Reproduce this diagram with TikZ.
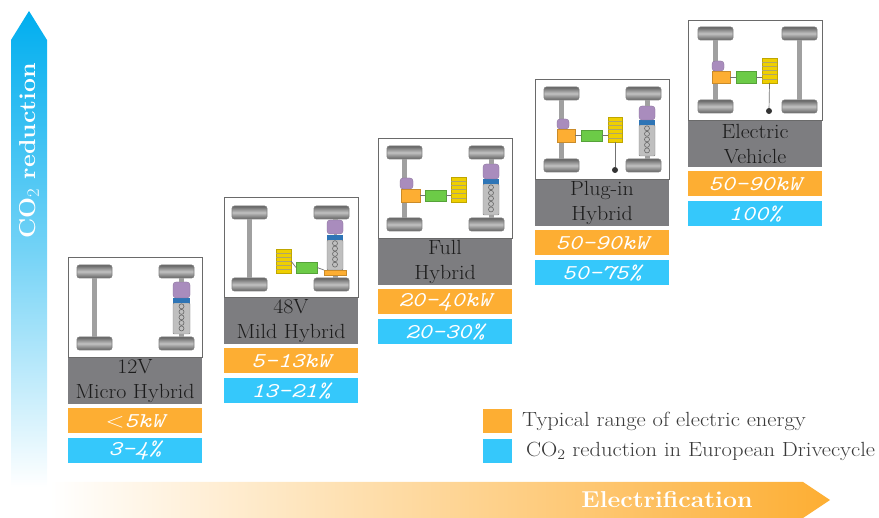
\documentclass[tikz,border=0pt]{standalone}
\usetikzlibrary{calc}
\definecolor{cOrange}{HTML}{FDAE33}
\definecolor{cBlue}{HTML}{35C8FB}
\definecolor{cArrow}{HTML}{00AEEF}
\definecolor{cGrey}{HTML}{7D7D80}
\definecolor{cFrame}{HTML}{6A6A6A}
\definecolor{cPurple}{HTML}{A98CBD}
\definecolor{cBar}{HTML}{2E75B6}
\definecolor{cGreen}{HTML}{6CCB47}
\definecolor{cYellow}{HTML}{EFCF00}
\definecolor{cAxle}{HTML}{A0A0A0}
\definecolor{cText}{HTML}{1C1C1C}
\definecolor{cLegend}{HTML}{3A3A3A}
\newcommand{\widetext}[2]{\scalebox{#1}[1]{#2}}
\tikzset{
  x=1pt,y=-1pt,
  box/.style={inner sep=0pt,outer sep=0pt},
  wheelbox/.style={box,draw=black!50,line width=.7pt,rounded corners=2.5pt,top color=black!62,bottom color=black!62,middle color=black!24},
  axlebar/.style={draw=cAxle,line width=5pt},
  wire/.style={draw=black!55,line width=.7pt},
  purplebox/.style={box,fill=cPurple,draw=cPurple!80!black,line width=.3pt,rounded corners=3pt},
  barbox/.style={box,fill=cBar},
  bodybox/.style={box,fill=black!25,draw=black!50,line width=.4pt,rounded corners=1pt},
  orangebox/.style={box,fill=cOrange,draw=cOrange!80!black,line width=.4pt},
  greenbox/.style={box,fill=cGreen,draw=cGreen!80!black,line width=.4pt},
  yellowbox/.style={box,fill=cYellow,draw=cYellow!80!black,line width=.4pt},
  framebox/.style={box,fill=white,draw=cFrame,line width=1pt},
  greybox/.style={box,fill=cGrey,text=cText,align=center,font=\fontsize{20.5}{25}\selectfont},
  valbox/.style={box,text=white,font=\fontsize{21}{21}\selectfont\ttfamily\itshape},
  legendtext/.style={box,text=cLegend,anchor=west,font=\fontsize{20.5}{20.5}\selectfont},
  arrowtext/.style={box,text=white,font=\fontsize{23}{23}\selectfont\bfseries},
}
% part: style, name, x0, y0, x1, y1
\newcommand{\partbox}[6]{\node[#1,minimum width={(#5-#3)*1pt},minimum height={(#6-#4)*1pt}] (#2) at ({(#3+#5)/2},{(#4+#6)/2}) {};}
% four wheels: x-left-wheel, x-right-wheel, y-top, y-bottom
\newcommand{\wheels}[4]{%
  \partbox{wheelbox}{wtl}{#1}{#3}{#1+35}{#3+13}
  \partbox{wheelbox}{wtr}{#2}{#3}{#2+35}{#3+13}
  \partbox{wheelbox}{wbl}{#1}{#4}{#1+35}{#4+13}
  \partbox{wheelbox}{wbr}{#2}{#4}{#2+35}{#4+13}}
% rear drivetrain: x0,x1,purple y0,y1, bar y0,y1, body y1
\newcommand{\rearunit}[7]{%
  \partbox{bodybox}{body}{#1}{#6}{#2}{#7}
  \draw[axlebar] (body.south) -- (body.south |- wbr.north);
  \foreach \k in {1,...,5}{\node[box,circle,draw=black!60,line width=.6pt,minimum size=5pt] (coil\k) at ({(#1+#2)/2},{#6+(#7-#6)*(\k-.4)/5.6}) {};}
  \partbox{barbox}{bar}{#1-1}{#5}{#2+1}{#6}
  \partbox{purplebox}{pur}{#1}{#3}{#2}{#4}
  \draw[axlebar] (pur.north) -- (pur.north |- wtr.south);
  \draw[axlebar,line width=3pt] (pur.south) -- (bar.north);}
% battery with stripes
\newcommand{\battery}[4]{%
  \partbox{yellowbox}{bat}{#1}{#2}{#3}{#4}
  \foreach \k in {1,...,5}{\draw[draw=white!60!cYellow!70!black,line width=.5pt] ($(bat.north west)!\k/6!(bat.south west)$) -- ($(bat.north east)!\k/6!(bat.south east)$);}}
% panel frame and labels
\newcommand{\panel}[7]{%
 \begin{scope}[shift={(#1,#2)},name prefix=#3-]
  \partbox{framebox}{frame}{0}{0}{134}{100}
  \node[greybox,minimum width=134pt,minimum height=46pt] (kind) at (67,123) {\widetext{1.07}{#4}\\\widetext{1.07}{#5}};
  \node[valbox,fill=cOrange,minimum width=134pt,minimum height=25pt] (power) at (67,163) {\widetext{1.2}{#6}};
  \node[valbox,fill=cBlue,minimum width=134pt,minimum height=25pt] (gain) at (67,193) {\widetext{1.2}{#7}};
 \end{scope}}
\begin{document}
\begin{tikzpicture}
\useasboundingbox (0,0) rectangle (879,518);
% big arrows
\shade[top color=cArrow,bottom color=white,middle color=cArrow!55] (11,40) -- (29,11) -- (47,40) -- (47,487) -- (11,487) -- cycle;
\shade[left color=white,right color=cOrange] (50,482) -- (803,482) -- (830,500) -- (803,518) -- (50,518) -- cycle;
\node[arrowtext,rotate=90] (ylab) at (29,151) {\widetext{1.08}{CO$_2$ reduction}};
\node[arrowtext] (xlab) at (667,500) {\widetext{1.08}{Electrification}};
% legend
\partbox{box,fill=cOrange}{legO}{483}{409}{512}{433}
\partbox{box,fill=cBlue}{legB}{483}{439}{512}{463}
\node[legendtext] (legOt) at (522,421) {\widetext{1.1}{Typical range of electric energy}};
\node[legendtext] (legBt) at (526,451) {\widetext{1.1}{CO$_2$ reduction in European Drivecycle}};
% panels
\panel{68}{258}{a}{12V}{Micro Hybrid}{{\rmfamily$<$}5kW}{3-4\%}
\panel{224}{198}{b}{48V}{Mild Hybrid}{5-13kW}{13-21\%}
\panel{378}{139}{c}{Full}{Hybrid}{20-40kW}{20-30\%}
\panel{535}{80}{d}{Plug-in}{Hybrid}{50-90kW}{50-75\%}
\panel{688}{21}{e}{Electric}{Vehicle}{50-90kW}{100\%}
% panel a
\begin{scope}[shift={(68,258)},name prefix=a-]
  \wheels{9}{91}{7}{79}
  \draw[axlebar] (wtl.south) -- (wbl.north);
  \rearunit{105}{122}{24}{40}{40}{45}{76}
\end{scope}
% panel b
\begin{scope}[shift={(224,198)},name prefix=b-]
  \wheels{8}{90}{8}{80}
  \draw[axlebar] (wtl.south) -- (wbl.north);
  \rearunit{103}{119}{22}{36}{37}{42}{72}
  \partbox{orangebox}{mot}{100}{72}{122}{77}
  \partbox{greenbox}{inv}{72}{64}{93}{75}
  \battery{52}{51}{67}{75}
  \draw[wire] (bat.east) -- (inv.west);
  \draw[wire] (inv.east) -- (mot.north west);
\end{scope}
% panel c
\begin{scope}[shift={(378,139)},name prefix=c-]
  \wheels{9}{91}{7}{79}
  \draw[axlebar] (wtl.south) -- (wbl.north);
  \rearunit{105}{121}{25}{40}{40}{45}{76}
  \partbox{purplebox}{pf}{22}{39}{35}{50}
  \partbox{orangebox}{mot}{23}{50}{42}{63}
  \partbox{greenbox}{inv}{47}{51}{68}{62}
  \battery{73}{38}{88}{63}
  \draw[wire] (bat.west |- inv.east) -- (inv.east);
  \draw[wire] (inv.west) -- (mot.east |- inv.west);
\end{scope}
% panel d
\begin{scope}[shift={(535,80)},name prefix=d-]
  \wheels{9}{91}{7}{79}
  \draw[axlebar] (wtl.south) -- (wbl.north);
  \rearunit{104}{120}{26}{40}{40}{45}{76}
  \partbox{purplebox}{pf}{22}{39}{34}{49}
  \partbox{orangebox}{mot}{22}{49}{40}{62}
  \partbox{greenbox}{inv}{46}{50}{67}{61}
  \battery{73}{37}{87}{62}
  \node[box,circle,fill=black!80,minimum size=6pt] (plug) at (80,90) {};
  \draw[wire] (bat.south) -- (plug);
  \draw[wire] (bat.west |- inv.east) -- (inv.east);
  \draw[wire] (inv.west) -- (mot.east |- inv.west);
\end{scope}
% panel e
\begin{scope}[shift={(688,21)},name prefix=e-]
  \wheels{10}{94}{6}{79}
  \draw[axlebar] (wtl.south) -- (wbl.north);
  \draw[axlebar] (wtr.south) -- (wbr.north);
  \partbox{purplebox}{pf}{24}{40}{36}{50}
  \partbox{orangebox}{mot}{24}{50}{42}{62}
  \partbox{greenbox}{inv}{48}{50}{68}{62}
  \battery{74}{37}{89}{62}
  \node[box,circle,fill=black!80,minimum size=6pt] (plug) at (81,90) {};
  \draw[wire] (bat.south) -- (plug);
  \draw[wire] (bat.west |- inv.east) -- (inv.east);
  \draw[wire] (inv.west) -- (mot.east |- inv.west);
\end{scope}
\end{tikzpicture}
\end{document}
